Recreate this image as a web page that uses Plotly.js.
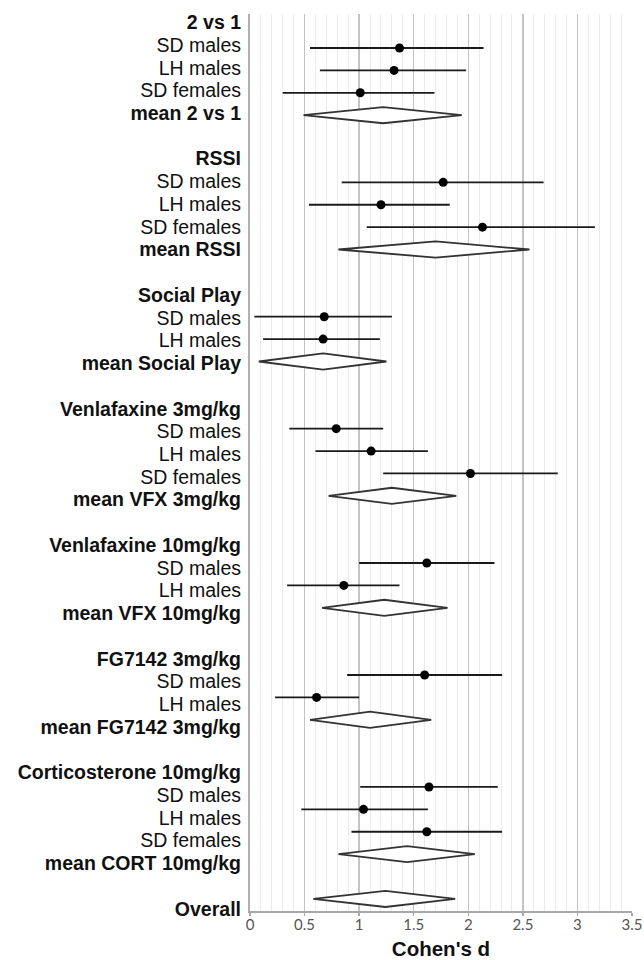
<!DOCTYPE html>
<html>
<head>
<meta charset="utf-8">
<script src="https://cdn.plot.ly/plotly-3.0.1.min.js"></script>
<style>html,body{margin:0;padding:0;background:#fff;}#chart{width:644px;height:960px;}</style>
</head>
<body>
<div id="chart"></div>
<script>
// ---- Data ----
const groups = ["2 vs 1","RSSI","Social Play","Venlafaxine 3mg/kg","Venlafaxine 10mg/kg","FG7142 3mg/kg","Corticosterone 10mg/kg"];
const meanLabels = ["mean 2 vs 1","mean RSSI","mean Social Play","mean VFX 3mg/kg","mean VFX 10mg/kg","mean FG7142 3mg/kg","mean CORT 10mg/kg"];
const studyLabels = [
  ["SD males","LH males","SD females"],
  ["SD males","LH males","SD females"],
  ["SD males","LH males"],
  ["SD males","LH males","SD females"],
  ["SD males","LH males"],
  ["SD males","LH males"],
  ["SD males","LH males","SD females"]
];
const studyD  = [[1.37,1.32,1.01],[1.77,1.20,2.13],[0.68,0.67],[0.79,1.11,2.02],[1.62,0.86],[1.60,0.61],[1.64,1.04,1.62]];
const studyLo = [[0.55,0.64,0.30],[0.84,0.54,1.07],[0.04,0.12],[0.36,0.60,1.22],[1.00,0.34],[0.89,0.23],[1.01,0.47,0.93]];
const studyHi = [[2.14,1.98,1.69],[2.69,1.83,3.16],[1.30,1.19],[1.22,1.63,2.82],[2.24,1.37],[2.31,1.00],[2.27,1.63,2.31]];
const meanD  = [1.22,1.70,0.67,1.30,1.23,1.10,1.44];
const meanLo = [0.49,0.81,0.08,0.72,0.66,0.55,0.81];
const meanHi = [1.94,2.56,1.25,1.89,1.81,1.66,2.06];
const overallLabel = "Overall";
const overallD = 1.24, overallLo = 0.58, overallHi = 1.88;
const xTickVals = [0,0.5,1,1.5,2,2.5,3,3.5];
const xTickText = ["0","0.5","1","1.5","2","2.5","3","3.5"];
const xTitle = "Cohen's d";

// ---- Build rows ----
const tickVals = [], tickText = [];
const px = [], py = [], pPlus = [], pMinus = [];
const diamonds = []; // {lo,c,hi,row}
let r = 0;
groups.forEach((g, gi) => {
  tickVals.push(r); tickText.push("<b>" + g + "</b>"); r++;
  studyLabels[gi].forEach((s, si) => {
    tickVals.push(r); tickText.push(s);
    px.push(studyD[gi][si]); py.push(r);
    pPlus.push(studyHi[gi][si] - studyD[gi][si]);
    pMinus.push(studyD[gi][si] - studyLo[gi][si]);
    r++;
  });
  tickVals.push(r); tickText.push("<b>" + meanLabels[gi] + "</b>");
  diamonds.push({lo: meanLo[gi], c: meanD[gi], hi: meanHi[gi], row: r});
  r++;
  r++; // blank row
});
tickVals.push(r); tickText.push("<b>" + overallLabel + "</b>");
diamonds.push({lo: overallLo, c: overallD, hi: overallHi, row: r});

const H = 0.36; // diamond half-height in row units
const dx = [], dy = [];
diamonds.forEach(d => {
  dx.push(d.lo, d.c, d.hi, d.c, d.lo, null);
  dy.push(d.row, d.row - H, d.row, d.row + H, d.row, null);
});

const traces = [
  {
    x: dx, y: dy, type: "scatter", mode: "lines", fill: "toself",
    fillcolor: "#ffffff", line: {color: "#333", width: 1.8},
    hoverinfo: "skip", showlegend: false
  },
  {
    x: px, y: py, type: "scatter", mode: "markers",
    marker: {color: "#000", size: 9},
    error_x: {type: "data", symmetric: false, array: pPlus, arrayminus: pMinus,
              color: "#1a1a1a", thickness: 1.8, width: 0},
    showlegend: false
  },
  {
    x: tickVals.map(() => 0), y: tickVals, yaxis: "y2", type: "scatter", mode: "markers",
    marker: {opacity: 0, size: 1}, hoverinfo: "skip", showlegend: false
  }
];

const layout = {
  width: 644, height: 960,
  margin: {l: 250, r: 12, t: 14, b: 49},
  paper_bgcolor: "#fff", plot_bgcolor: "#fff",
  showlegend: false,
  xaxis: {
    range: [0, 3.5], tickvals: xTickVals, ticktext: xTickText,
    showgrid: true, gridcolor: "#c4c4c4", gridwidth: 1.5,
    minor: {dtick: 0.1, showgrid: true, gridcolor: "#ebebeb", gridwidth: 1},
    zeroline: false, showline: true, linecolor: "#a8a8a8", linewidth: 2,
    ticks: "outside", ticklen: 3, tickcolor: "#a8a8a8", tickwidth: 1.5,
    ticklabelstandoff: -4,
    tickfont: {family: "Lato, 'Liberation Sans', sans-serif", size: 15, color: "#555"},
    title: {text: "<b>" + xTitle + "</b>", standoff: 12,
            font: {family: "'Liberation Sans', Arial, sans-serif", size: 20.5, color: "#111"}}
  },
  yaxis: {
    range: [39.54, -0.518], showgrid: false, zeroline: false,
    showticklabels: false, ticks: "",
    showline: true, linecolor: "#b0b0b0", linewidth: 2
  },
  yaxis2: {
    overlaying: "y", side: "left",
    range: [39.1, -0.365], tickvals: tickVals, ticktext: tickText,
    showgrid: false, zeroline: false, showline: false, ticks: "",
    ticklabelstandoff: 8,
    tickfont: {family: "'Liberation Sans', Arial, sans-serif", size: 19.5, color: "#111"}
  }
};

Plotly.newPlot("chart", traces, layout, {staticPlot: true, displayModeBar: false});
</script>
</body>
</html>
